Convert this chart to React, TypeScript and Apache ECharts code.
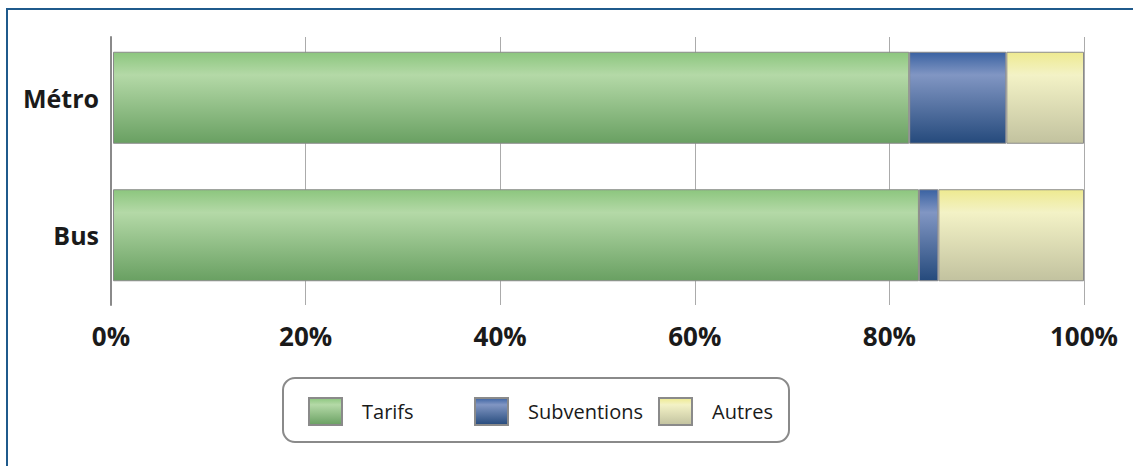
import React, { useEffect, useRef } from "react";
import * as echarts from "echarts";

const categories = ["Bus", "Métro"];
const seriesNames = ["Tarifs", "Subventions", "Autres"];
const tarifs = [83, 82];
const subventions = [2, 10];
const autres = [15, 8];
const tickLabels = ["0%", "20%", "40%", "60%", "80%", "100%"];

const grad = (top: string, mid: string, bottom: string) =>
  new echarts.graphic.LinearGradient(0, 0, 0, 1, [
    { offset: 0, color: top },
    { offset: 0.25, color: mid },
    { offset: 1, color: bottom },
  ]);

export default function App() {
  const ref = useRef<HTMLDivElement>(null);
  useEffect(() => {
    if (!ref.current) return;
    const chart = echarts.init(ref.current, undefined, { renderer: "svg" });
    const colors = [
      grad("#8cc67e", "#b4d9a7", "#69a062"),
      grad("#3a62a2", "#8196c3", "#254a7c"),
      grad("#eeea90", "#f3f2c6", "#c2c29f"),
    ];
    const data = [tarifs, subventions, autres];
    const font = "'Open Sans', 'Noto Sans', sans-serif";
    const legendLefts = [308, 474, 658];
    chart.setOption({
      animation: false,
      textStyle: { fontFamily: font },
      grid: [
        { left: 111, right: 49, top: 37, bottom: 161 },
        { left: 113, right: 49, top: 29, bottom: 162 },
      ],
      xAxis: [
        {
          gridIndex: 0,
          type: "value",
          min: 0,
          max: 100,
          interval: 20,
          axisLine: { show: false },
          axisTick: { show: false },
          splitLine: { show: true, lineStyle: { color: "#ababab", width: 1 } },
          axisLabel: {
            margin: 18,
            fontSize: 26,
            fontWeight: "bold",
            color: "#1a1a1a",
            fontFamily: font,
            formatter: (v: number) => tickLabels[Math.round(v / 20)],
          },
        },
        {
          gridIndex: 1,
          type: "value",
          min: 0,
          max: 100,
          show: false,
        },
      ],
      yAxis: [
        {
          gridIndex: 0,
          type: "category",
          data: categories,
          axisLine: { show: true, lineStyle: { color: "#8a8a8a", width: 2 } },
          axisTick: { show: false },
          axisLabel: { show: false },
          splitLine: { show: false },
        },
        {
          gridIndex: 1,
          type: "category",
          data: categories,
          axisLine: { show: false },
          axisTick: { show: false },
          axisLabel: {
            margin: 14,
            fontSize: 25,
            fontWeight: "bold",
            color: "#1a1a1a",
            fontFamily: font,
          },
        },
      ],
      legend: seriesNames.map((n, i) => ({
        data: [n],
        left: legendLefts[i],
        top: 397,
        padding: 0,
        itemWidth: 33,
        itemHeight: 27,
        icon: "rect",
        selectedMode: false,
        textStyle: {
          fontSize: 20,
          color: "#1a1a1a",
          fontFamily: font,
          padding: [0, 0, 0, 15],
        },
      })),
      series: seriesNames.map((n, i) => ({
        name: n,
        type: "bar",
        stack: "total",
        xAxisIndex: 1,
        yAxisIndex: 1,
        barWidth: 92,
        data: data[i],
        itemStyle: { color: colors[i], borderColor: "#8a8a8a", borderWidth: 1 },
      })),
      graphic: [
        {
          type: "rect",
          shape: { x: 7, y: 9, width: 1140, height: 470 },
          style: { fill: "none", stroke: "#1f5a8c", lineWidth: 2 },
          silent: true,
        },
        {
          type: "rect",
          shape: { x: 283, y: 378, width: 506, height: 64, r: 12 },
          style: { fill: "none", stroke: "#8a8a8a", lineWidth: 2 },
          silent: true,
        },
      ],
    });
    return () => chart.dispose();
  }, []);
  return (
    <div
      ref={ref}
      style={{ position: "fixed", left: 0, top: 0, width: 1133, height: 466, background: "#fff" }}
    />
  );
}
